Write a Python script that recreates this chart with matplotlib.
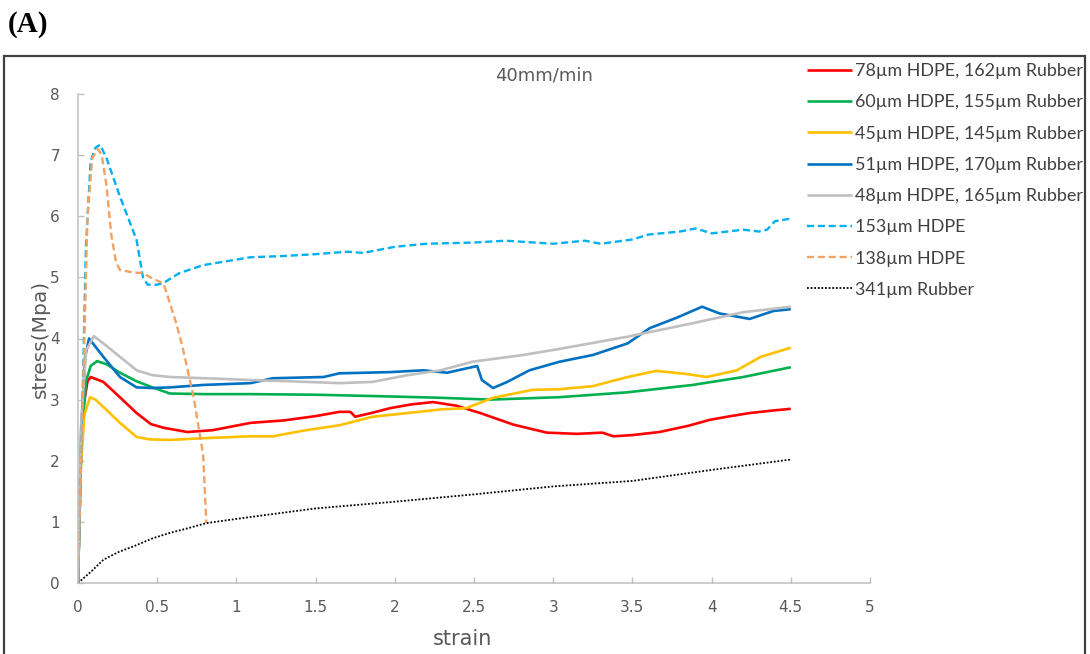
import matplotlib
matplotlib.use("Agg")
import matplotlib.pyplot as plt
from matplotlib.patches import Rectangle

# ---- stress-strain curves (strain, stress in MPa) ----
red_x = [0, 0.015, 0.035, 0.06, 0.08, 0.16, 0.26, 0.37, 0.46, 0.54, 0.69, 0.85, 1.09, 1.3, 1.5,
         1.65, 1.72, 1.75, 1.85, 1.97, 2.1, 2.24, 2.39, 2.54, 2.65, 2.75, 2.96, 3.15, 3.31, 3.38,
         3.5, 3.67, 3.85, 3.99, 4.12, 4.24, 4.38, 4.5]
red_y = [0, 1.8, 2.9, 3.3, 3.37, 3.29, 3.05, 2.78, 2.6, 2.54, 2.47, 2.5, 2.62, 2.66, 2.73,
         2.8, 2.8, 2.72, 2.78, 2.86, 2.92, 2.96, 2.9, 2.78, 2.68, 2.59, 2.46, 2.44, 2.46, 2.4,
         2.42, 2.47, 2.57, 2.67, 2.73, 2.78, 2.82, 2.85]

green_x = [0, 0.02, 0.05, 0.08, 0.12, 0.18, 0.265, 0.37, 0.47, 0.58, 0.8, 1.09, 1.5, 2.0, 2.29,
           2.6, 3.04, 3.47, 3.88, 4.2, 4.35, 4.5]
green_y = [0, 2.2, 3.3, 3.55, 3.63, 3.58, 3.44, 3.3, 3.2, 3.1, 3.09, 3.09, 3.08, 3.05, 3.03,
           3.0, 3.04, 3.12, 3.24, 3.37, 3.45, 3.53]

yellow_x = [0, 0.015, 0.04, 0.076, 0.11, 0.16, 0.265, 0.37, 0.45, 0.58, 0.8, 1.09, 1.23, 1.44,
            1.65, 1.86, 2.08, 2.29, 2.45, 2.62, 2.87, 3.04, 3.25, 3.47, 3.65, 3.84, 3.97, 4.16,
            4.31, 4.5]
yellow_y = [0, 1.8, 2.75, 3.04, 3.0, 2.88, 2.62, 2.39, 2.35, 2.34, 2.37, 2.4, 2.4, 2.5,
            2.58, 2.72, 2.78, 2.84, 2.86, 3.03, 3.16, 3.17, 3.22, 3.37, 3.47, 3.42, 3.37, 3.48,
            3.7, 3.85]

blue_x = [0, 0.02, 0.045, 0.07, 0.1, 0.16, 0.265, 0.37, 0.47, 0.58, 0.79, 1.09, 1.23, 1.55,
          1.65, 1.97, 2.18, 2.33, 2.52, 2.55, 2.62, 2.71, 2.85, 3.04, 3.25, 3.47, 3.61, 3.78,
          3.94, 4.05, 4.24, 4.39, 4.5]
blue_y = [0, 2.5, 3.7, 4.0, 3.9, 3.7, 3.37, 3.2, 3.19, 3.2, 3.24, 3.27, 3.35, 3.37,
          3.43, 3.45, 3.48, 3.44, 3.55, 3.32, 3.19, 3.29, 3.48, 3.62, 3.73, 3.92, 4.17, 4.34,
          4.52, 4.41, 4.32, 4.45, 4.48]

gray_x = [0, 0.02, 0.05, 0.1, 0.16, 0.265, 0.37, 0.47, 0.58, 0.8, 1.09, 1.34, 1.65, 1.86,
          2.08, 2.29, 2.49, 2.81, 3.04, 3.47, 3.88, 4.2, 4.5]
gray_y = [0, 2.6, 3.8, 4.04, 3.92, 3.7, 3.48, 3.4, 3.37, 3.35, 3.32, 3.3, 3.27, 3.29,
          3.4, 3.48, 3.62, 3.73, 3.83, 4.03, 4.25, 4.43, 4.52]

hdpe153_x = [0, 0.02, 0.05, 0.08, 0.11, 0.139, 0.18, 0.265, 0.32, 0.37, 0.41, 0.44, 0.5, 0.54,
             0.64, 0.79, 1.09, 1.3, 1.5, 1.7, 1.8, 2.0, 2.2, 2.5, 2.7, 3.0, 3.2, 3.3, 3.5, 3.6,
             3.8, 3.9, 4.0, 4.1, 4.2, 4.3, 4.35, 4.4, 4.5]
hdpe153_y = [0, 2.0, 5.5, 6.9, 7.12, 7.17, 6.95, 6.32, 5.95, 5.61, 5.0, 4.88, 4.88, 4.91,
             5.07, 5.2, 5.33, 5.35, 5.38, 5.42, 5.4, 5.5, 5.55, 5.57, 5.6, 5.55, 5.6, 5.55, 5.62, 5.7,
             5.75, 5.8, 5.72, 5.75, 5.78, 5.75, 5.78, 5.92, 5.96]

hdpe138_x = [0, 0.03, 0.06, 0.09, 0.126, 0.15, 0.18, 0.21, 0.24, 0.265, 0.35, 0.41, 0.47, 0.54,
             0.58, 0.62, 0.66, 0.73, 0.79, 0.81]
hdpe138_y = [0, 3.0, 6.0, 6.95, 7.1, 7.0, 6.5, 5.7, 5.25, 5.12, 5.08, 5.07, 4.98, 4.9,
             4.58, 4.25, 3.86, 3.04, 2.1, 0.98]

rubber_x = [0, 0.08, 0.16, 0.25, 0.37, 0.47, 0.58, 0.7, 0.81, 0.95, 1.09, 1.5, 2.0, 2.5, 3.0,
            3.5, 4.0, 4.5]
rubber_y = [0, 0.18, 0.38, 0.5, 0.62, 0.73, 0.82, 0.9, 0.98, 1.03, 1.08, 1.22, 1.33, 1.45, 1.58,
            1.67, 1.85, 2.02]

labels = ["78µm HDPE, 162µm Rubber", "60µm HDPE, 155µm Rubber", "45µm HDPE, 145µm Rubber",
          "51µm HDPE, 170µm Rubber", "48µm HDPE, 165µm Rubber", "153µm HDPE", "138µm HDPE",
          "341µm Rubber"]
x_ticks = [0, 0.5, 1, 1.5, 2, 2.5, 3, 3.5, 4, 4.5, 5]
x_tick_labels = ["0", "0.5", "1", "1.5", "2", "2.5", "3", "3.5", "4", "4.5", "5"]
y_ticks = [0, 1, 2, 3, 4, 5, 6, 7, 8]

plt.rcParams["font.family"] = ["DejaVu Sans"]
TXT = "#595959"
AX = "#BFBFBF"

fig = plt.figure(figsize=(10.9, 6.54), dpi=100)
fig.patch.set_facecolor("white")
ax = fig.add_axes([78 / 1090, 1 - 583 / 654, (870 - 78) / 1090, (583 - 94) / 654])

series = [
    (red_x, red_y, dict(color="#FF0000", lw=1.9, ls="-")),
    (green_x, green_y, dict(color="#00B050", lw=1.9, ls="-")),
    (yellow_x, yellow_y, dict(color="#FFC000", lw=1.9, ls="-")),
    (blue_x, blue_y, dict(color="#0070C0", lw=1.9, ls="-")),
    (gray_x, gray_y, dict(color="#BFBFBF", lw=1.9, ls="-")),
    (hdpe153_x, hdpe153_y, dict(color="#00B0F0", lw=1.7, ls=(0, (3, 1.6)))),
    (hdpe138_x, hdpe138_y, dict(color="#F2A263", lw=1.7, ls=(0, (3, 1.6)))),
    (rubber_x, rubber_y, dict(color="#000000", lw=1.3, ls=(0, (1, 1.0)))),
]
handles = []
for (xs, ys, st), lab in zip(series, labels):
    h, = ax.plot(xs, ys, label=lab, solid_capstyle="butt", **st)
    handles.append(h)

ax.set_xlim(0, 5)
ax.set_ylim(0, 8)
ax.set_xticks(x_ticks)
ax.set_xticklabels(x_tick_labels)
ax.set_yticks(y_ticks)
for side in ("top", "right"):
    ax.spines[side].set_visible(False)
for side in ("left", "bottom"):
    ax.spines[side].set_color(AX)
    ax.spines[side].set_linewidth(1.1)
ax.tick_params(axis="both", direction="in", length=4, width=1.0, color=AX,
               labelcolor=TXT, labelsize=11)
ax.tick_params(axis="x", pad=12)
ax.tick_params(axis="y", pad=13)

ax.set_xlabel("strain", fontsize=15, color=TXT)
ax.set_ylabel("stress(Mpa)", fontsize=14.5, color=TXT)
ax.xaxis.set_label_coords(0.485, -0.095)
ax.yaxis.set_label_coords(-0.035, 0.5)
fig.text(544 / 1090, 1 - 76 / 654, "40mm/min", ha="center", va="center",
         fontsize=13, color=TXT)

leg = fig.legend(handles=handles, loc="upper left",
                 bbox_to_anchor=(800 / 1090, 1 - 56 / 654), frameon=False,
                 prop={"family": ["Lato", "DejaVu Sans"], "size": 12.9},
                 handlelength=2.5, handletextpad=0.15,
                 labelspacing=0.85, borderaxespad=0)
for t in leg.get_texts():
    t.set_color("#404040")

fig.text(8 / 1090, 1 - 24 / 654, "(A)", ha="left", va="center", fontsize=21,
         fontweight="bold", family="Liberation Serif", color="black")

fig.patches.append(Rectangle((4 / 1090, -0.1), (1085 - 4) / 1090, 0.1 + (654 - 56) / 654,
                             transform=fig.transFigure, fill=False,
                             edgecolor="#404040", linewidth=1.6))

fig.savefig("out.png", dpi=100)
